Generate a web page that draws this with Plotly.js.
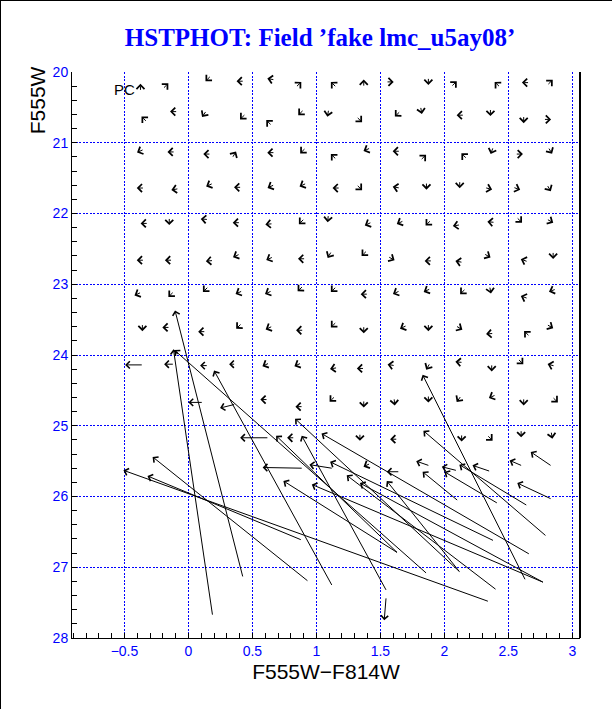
<!DOCTYPE html>
<html>
<head>
<meta charset="utf-8">
<script src="https://cdn.plot.ly/plotly-3.0.1.min.js"></script>
<style>
  html, body { margin: 0; padding: 0; background: #fff; }
  #wrap { position: relative; width: 612px; height: 709px; }
  #frame { position: absolute; left: 0; top: 0; width: 612px; height: 709px; box-sizing: border-box;
           border-left: 1px solid #000; border-top: 1px solid #000; pointer-events: none; }
</style>
</head>
<body>
<div id="wrap"><div id="plot"></div><div id="frame"></div></div>
<script>
// ---------------- DATA ----------------
const titleText = 'HSTPHOT: Field \u2019fake lmc_u5ay08\u2019';
const xTitle = 'F555W\u2212F814W';
const yTitle = 'F555W';
const cornerLabel = 'PC';

// small arrows: position (x, y) and screen direction of the head in degrees
// (0 = right, 90 = up, 180 = left, 270 = down)
const smallX = [
  -0.375,-0.174,0.15,0.40,0.64,0.865,1.13,1.37,1.58,1.875,2.08,2.41,2.63,2.83,
  -0.35,-0.12,0.12,0.42,0.625,0.875,1.09,1.34,1.63,1.82,2.12,2.36,2.62,2.81,
  -0.38,-0.14,0.14,0.36,0.64,0.89,1.13,1.39,1.62,1.84,2.15,2.37,2.59,2.83,
  -0.38,-0.11,0.16,0.38,0.64,0.89,1.15,1.34,1.62,1.86,2.12,2.35,2.57,2.82,
  -0.35,-0.15,0.12,0.37,0.625,0.88,1.09,1.40,1.65,1.87,2.09,2.36,2.59,2.83,
  -0.38,-0.16,0.16,0.37,0.63,0.88,1.10,1.37,1.59,1.87,2.11,2.34,2.62,2.85,
  -0.40,-0.14,0.13,0.39,0.62,0.87,1.13,1.37,1.62,1.86,2.14,2.36,2.62,2.84,
  -0.36,-0.18,0.10,0.39,0.625,0.865,1.13,1.37,1.675,1.875,2.12,2.35,2.64,2.83,
  0.60,0.85,1.13,1.34,1.58,1.87,2.11,2.37,2.60,2.83,
  0.586,0.86,1.12,1.37,1.61,1.875,2.11,2.37,2.62,2.87,
  0.795,1.34,1.60,2.135,2.36,2.60,2.84,
  1.39
];
const smallY = [
  20.21,20.19,20.10,20.13,20.10,20.17,20.17,20.15,20.14,20.14,20.16,20.17,20.15,20.14,
  20.66,20.56,20.60,20.64,20.71,20.58,20.59,20.68,20.60,20.55,20.61,20.58,20.68,20.67,
  21.12,21.13,21.16,21.16,21.14,21.12,21.19,21.10,21.12,21.20,21.18,21.12,21.16,21.12,
  21.64,21.66,21.60,21.63,21.62,21.60,21.64,21.64,21.63,21.62,21.60,21.65,21.65,21.65,
  22.14,22.12,22.08,22.13,22.15,22.12,22.08,22.15,22.13,22.14,22.17,22.12,22.10,22.11,
  22.66,22.66,22.67,22.60,22.64,22.64,22.59,22.57,22.64,22.67,22.68,22.60,22.66,22.60,
  23.14,23.15,23.08,23.12,23.12,23.07,23.08,23.14,23.12,23.09,23.11,23.09,23.18,23.09,
  23.62,23.61,23.67,23.60,23.62,23.65,23.58,23.65,23.61,23.62,23.62,23.70,23.69,23.60,
  24.14,24.14,24.19,24.19,24.14,24.17,24.10,24.19,24.10,24.14,
  24.63,24.73,24.63,24.70,24.67,24.63,24.63,24.59,24.67,24.64,
  25.17,25.17,25.19,25.18,25.18,25.12,25.14,
  25.56
];
const smallDir = [
  90,45,225,180,170,45,135,90,0,270,45,135,180,45,
  135,180,235,225,135,225,260,315,225,280,180,270,270,0,
  205,180,180,60,180,225,135,205,180,45,135,250,0,300,
  180,190,205,180,205,205,180,315,170,270,270,345,340,300,
  180,270,175,180,185,225,265,205,205,225,190,175,315,330,
  180,180,185,205,205,180,240,225,330,180,170,330,160,270,
  205,225,225,205,205,225,225,180,205,205,225,280,160,200,
  270,180,180,225,205,180,225,270,205,270,330,185,135,330,
  205,205,190,180,170,240,175,270,315,165,
  180,180,225,270,275,270,235,205,270,315,
  180,270,180,270,315,270,280,
  205
];

// vector arrows: tail (x0, y0) -> head (x1, y1)
const vecX0 = [-0.365,-0.122,0.143,0.357, 0.104,0.357, 0.617,
  2.83,2.60,2.35,2.09,1.875,1.64,1.12,0.885,
  0.1875,0.424,1.857,1.12,2.63,2.79,0.93,2.34,0.878,2.64,2.41,2.10,2.83,
  2.117,1.63,1.544,2.66,1.63,2.77,2.38,1.544,2.117,2.40,2.77];
const vecY0 = [24.14,24.13,24.15,24.13, 24.67,24.70, 25.17,
  25.56,25.56,25.64,25.63,25.56,25.65,25.60,25.60,
  27.67,27.13,27.08,27.25,27.17,26.55,27.19,27.48,26.61,26.12,26.09,26.05,26.03,
  27.06,26.79,27.32,26.81,26.79,27.21,26.62,27.44,27.06,27.31,27.21];
const vecX1 = [-0.495,-0.19,0.091,0.318, 0.0,0.247, 0.404,
  2.675,2.51,2.22,1.98,1.78,1.55,0.945,0.58,
  -0.117,-0.105,-0.11,0.20,1.83,1.836,-0.28,-0.508,-0.32,2.117,2.0,1.83,2.57,
  0.833,0.685,0.885,1.04,0.742,0.964,1.107,1.53,1.55,1.237,1.34];
const vecY1 = [24.14,24.13,24.15,24.13, 24.67,24.75, 25.17,
  25.37,25.49,25.56,25.58,25.50,25.65,25.55,25.59,
  23.92,23.37,23.93,24.22,24.28,25.07,25.44,25.63,25.71,25.55,25.65,25.65,25.81,
  24.90,25.14,25.14,25.11,25.78,25.83,25.51,27.75,25.78,25.70,25.81];

// ---------------- STYLE ----------------
const BLUE = '#0000ff';
const HALF_STEP = {x: 0.024, y: 0.043};   // tiny shaft for the small arrows (centred on the point)
const arrowStyle = {text: '', showarrow: true, arrowhead: 4, arrowsize: 1.4, arrowwidth: 1,
  arrowcolor: '#000', standoff: 0, startstandoff: 0, borderpad: 0, borderwidth: 0,
  font: {size: 1}, xref: 'x', yref: 'y', axref: 'x', ayref: 'y'};

const annotations = [];
smallX.forEach((x, i) => {
  const a = smallDir[i] * Math.PI / 180;
  const ddx = HALF_STEP.x * Math.cos(a), ddy = -HALF_STEP.y * Math.sin(a);
  annotations.push(Object.assign({}, arrowStyle, {
    arrowsize: 1.55,
    ax: x - ddx, ay: smallY[i] - ddy,
    x: x + ddx, y: smallY[i] + ddy
  }));
});
vecX0.forEach((x, i) => {
  annotations.push(Object.assign({}, arrowStyle, {ax: x, ay: vecY0[i], x: vecX1[i], y: vecY1[i]}));
});
annotations.push({text: cornerLabel, showarrow: false, xref: 'x', yref: 'y', x: -0.40, y: 20.25,
  xanchor: 'right', yanchor: 'middle', font: {family: 'Liberation Sans, Arial', size: 15, color: '#000'}});
annotations.push({text: yTitle, showarrow: false, xref: 'paper', yref: 'paper', x: -0.069, y: 0.95,
  xanchor: 'center', yanchor: 'middle', textangle: -90,
  font: {family: 'Liberation Sans, Arial', size: 21, color: '#000'}});

const axisCommon = {
  showline: true, linecolor: '#000', linewidth: 1,
  ticks: 'inside', ticklen: 5, tickcolor: '#000', tickwidth: 1,
  showgrid: true, gridcolor: BLUE, gridwidth: 1, griddash: '2px,1.5px',
  zeroline: false, autorange: false,
  tickfont: {family: 'Liberation Sans, Arial', size: 14, color: BLUE}
};

const layout = {
  width: 612, height: 709,
  margin: {l: 72, r: 32, t: 72, b: 71},
  paper_bgcolor: '#fff', plot_bgcolor: '#fff',
  showlegend: false,
  title: {text: titleText, x: 0.523, xref: 'container', y: 0.948, yref: 'container',
    xanchor: 'center', yanchor: 'middle',
    font: {family: 'Liberation Serif, Times New Roman', size: 25, color: BLUE, weight: 'bold'}},
  xaxis: Object.assign({}, axisCommon, {
    range: [-0.91, 3.06], tick0: 0, dtick: 0.5,
    minor: {tick0: 0, dtick: 0.1, ticks: 'inside', ticklen: 5, tickcolor: '#000', showgrid: false},
    title: {text: xTitle, standoff: 6, font: {family: 'Liberation Sans, Arial', size: 21, color: '#000'}}
  }),
  yaxis: Object.assign({}, axisCommon, {
    range: [28, 20], tick0: 20, dtick: 1,
    minor: {tick0: 20, dtick: 0.2, ticks: 'inside', ticklen: 5, tickcolor: '#000', showgrid: false}
  }),
  shapes: [{type: 'line', xref: 'paper', yref: 'paper', x0: 1, x1: 1, y0: 0, y1: 1,
    line: {color: '#000', width: 2}}],
  annotations: annotations
};

Plotly.newPlot('plot', [{x: [], y: [], type: 'scatter', mode: 'markers'}], layout,
  {staticPlot: true, displayModeBar: false});
</script>
</body>
</html>
